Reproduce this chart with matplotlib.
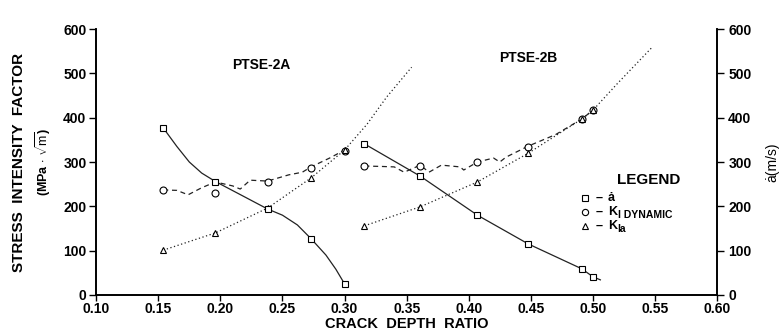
import matplotlib.pyplot as plt
from matplotlib.ticker import FormatStrFormatter

plt.rcParams['font.family'] = ['Liberation Sans', 'DejaVu Sans']
plt.rcParams['mathtext.fontset'] = 'custom'
plt.rcParams['mathtext.rm'] = 'Liberation Sans'

# measured points, PTSE-2A
x_2a = [0.154, 0.196, 0.238, 0.273, 0.300]
adot_2a = [377, 256, 194, 127, 25]
kdyn_2a = [236, 229, 256, 287, 326]
kia_2a = [101, 140, 196, 264, 327]

# measured points, PTSE-2B
x_2b = [0.316, 0.361, 0.407, 0.448, 0.491, 0.500]
adot_2b = [341, 268, 180, 115, 59, 41]
kdyn_2b = [291, 291, 300, 334, 397, 417]
kia_2b = [156, 199, 255, 320, 397, 417]

# fitted curves as drawn on the original
cx_adot_2a = [0.154, 0.165, 0.175, 0.185, 0.196, 0.215, 0.238, 0.250, 0.262, 0.273, 0.285, 0.293, 0.300]
cy_adot_2a = [377, 335, 300, 275, 256, 228, 194, 180, 158, 127, 90, 58, 25]
cx_kdyn_2a = [0.154, 0.165, 0.174, 0.185, 0.196, 0.210, 0.216, 0.224, 0.238, 0.255, 0.266, 0.273, 0.288, 0.300]
cy_kdyn_2a = [237, 236, 226, 242, 255, 246, 239, 259, 257, 271, 277, 289, 309, 327]
cx_kia_2a = [0.154, 0.196, 0.238, 0.273, 0.300, 0.318, 0.334, 0.354]
cy_kia_2a = [101, 140, 196, 264, 327, 385, 447, 514]

cx_adot_2b = [0.316, 0.361, 0.407, 0.448, 0.491, 0.500, 0.506]
cy_adot_2b = [341, 268, 180, 115, 59, 41, 34]
cx_kdyn_2b = [0.316, 0.330, 0.340, 0.348, 0.361, 0.368, 0.378, 0.393, 0.396, 0.407, 0.420, 0.425, 0.430, 0.448, 0.470, 0.491, 0.500]
cy_kdyn_2b = [291, 290, 289, 277, 293, 277, 293, 289, 282, 300, 309, 300, 311, 336, 362, 397, 417]
cx_kia_2b = [0.316, 0.361, 0.407, 0.448, 0.491, 0.500, 0.520, 0.548]
cy_kia_2b = [156, 199, 255, 320, 397, 417, 478, 560]

fig = plt.figure(figsize=(7.82, 3.31), dpi=100)
ax = fig.add_axes([0.123, 0.109, 0.794, 0.803])
ax2 = ax.twinx()

line_kw = dict(color='#222222', lw=0.9)
mk_kw = dict(ls='none', mfc='white', mec='black', mew=0.8, ms=5, zorder=5)

for cx, cy in [(cx_kdyn_2a, cy_kdyn_2a), (cx_kdyn_2b, cy_kdyn_2b)]:
    ax.plot(cx, cy, ls=(0, (4, 3)), **line_kw)
for cx, cy in [(cx_kia_2a, cy_kia_2a), (cx_kia_2b, cy_kia_2b)]:
    ax.plot(cx, cy, ls=(0, (1, 2)), **line_kw)
for cx, cy in [(cx_adot_2a, cy_adot_2a), (cx_adot_2b, cy_adot_2b)]:
    ax2.plot(cx, cy, ls='-', **line_kw)

ax.plot(x_2a, kdyn_2a, marker='o', **mk_kw)
ax.plot(x_2b, kdyn_2b, marker='o', **mk_kw)
ax.plot(x_2a, kia_2a, marker='^', **mk_kw)
ax.plot(x_2b, kia_2b, marker='^', **mk_kw)
ax2.plot(x_2a, adot_2a, marker='s', **mk_kw)
ax2.plot(x_2b, adot_2b, marker='s', **mk_kw)

for a in (ax, ax2):
    a.set_xlim(0.10, 0.60)
    a.set_ylim(0, 600)
    a.spines['top'].set_visible(False)
    for s in a.spines.values():
        s.set_linewidth(1.2)
ax.set_xticks([0.10, 0.15, 0.20, 0.25, 0.30, 0.35, 0.40, 0.45, 0.50, 0.55, 0.60])
ax.xaxis.set_major_formatter(FormatStrFormatter('%.2f'))
ax.set_yticks(range(0, 601, 100))
ax2.set_yticks(range(0, 601, 100))
ax.tick_params(axis='y', direction='out', length=5, width=1.0, labelsize=10, pad=2)
ax.tick_params(axis='x', direction='out', length=4, width=1.0, labelsize=10, pad=1)
ax2.tick_params(direction='out', length=5, width=1.0, labelsize=10, pad=3)
for lab in ax.get_xticklabels() + ax.get_yticklabels() + ax2.get_yticklabels():
    lab.set_fontweight('bold')

ax.set_xlabel('CRACK  DEPTH  RATIO', fontsize=10.5, fontweight='bold', labelpad=1)
fig.text(0.024, 0.51, 'STRESS  INTENSITY  FACTOR', rotation=90, fontsize=11,
         fontweight='bold', ha='center', va='center')
fig.text(0.055, 0.51, r'(MPa $\cdot$ $\sqrt{\mathrm{m}}$)', rotation=90, fontsize=9,
         fontweight='bold', ha='center', va='center')
ax2.set_ylabel('\u0227(m/s)', fontsize=10, labelpad=10)

ax.text(0.233, 519, 'PTSE-2A', fontsize=10, fontweight='bold', ha='center', va='center')
ax.text(0.448, 535, 'PTSE-2B', fontsize=10, fontweight='bold', ha='center', va='center')

# hand drawn legend
ax.text(0.545, 259, 'LEGEND', fontsize=11, fontweight='bold', ha='center', va='center')
leg_y = [219, 187, 156]
leg_mk = ['s', 'o', '^']
for yy, m in zip(leg_y, leg_mk):
    ax.plot([0.494], [yy], marker=m, ls='none', mfc='white', mec='black', mew=0.8, ms=4.5)
    ax.text(0.502, yy, '\u2013', fontsize=9, fontweight='bold', ha='left', va='center')
ax.text(0.512, leg_y[0], '\u0227', fontsize=9, fontweight='bold', ha='left', va='center')
ax.text(0.512, leg_y[1], 'K', fontsize=9, fontweight='bold', ha='left', va='center')
ax.text(0.520, leg_y[1] - 7, 'I DYNAMIC', fontsize=7.5, fontweight='bold', ha='left', va='center')
ax.text(0.512, leg_y[2], 'K', fontsize=9, fontweight='bold', ha='left', va='center')
ax.text(0.520, leg_y[2] - 7, 'Ia', fontsize=7.5, fontweight='bold', ha='left', va='center')

fig.savefig('out.png', dpi=100)
